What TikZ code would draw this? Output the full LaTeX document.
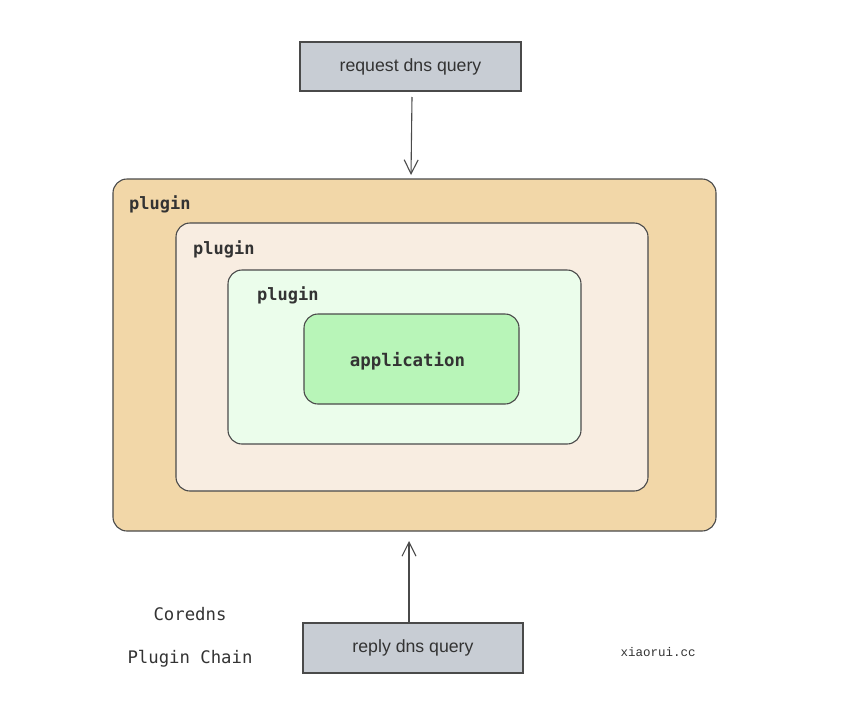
\documentclass[tikz,border=0pt]{standalone}
\usepackage{fontspec}
\setmainfont{Liberation Sans}
\newfontfamily\monofont{DejaVu Sans Mono}
\newfontfamily\xmono{Liberation Mono}
\usetikzlibrary{arrows.meta}
\definecolor{boxgray}{HTML}{C8CDD4}
\definecolor{lineclr}{HTML}{4A4A4A}
\definecolor{txtclr}{HTML}{333333}
\definecolor{pone}{HTML}{F2D7A8}
\definecolor{ptwo}{HTML}{F8EDE1}
\definecolor{pthree}{HTML}{EBFDEB}
\definecolor{papp}{HTML}{B8F5B8}
\tikzset{
  x=1pt, y=-1pt,
  qbox/.style={draw=lineclr, fill=boxgray, line width=1.1pt, inner sep=0pt,
    text=txtclr, font=\fontsize{17.7}{20}\selectfont},
  pbox/.style={draw=lineclr, line width=1.1pt, rounded corners=14pt},
  plabel/.style={anchor=base west, inner sep=0pt, text=txtclr, font=\monofont\bfseries\fontsize{17}{20}\selectfont},
  conn/.style={draw=lineclr, line width=1.1pt, -{Straight Barb[length=14pt,width=14pt,line width=1.1pt]}},
  note/.style={inner sep=0pt, text=txtclr, font=\monofont\fontsize{17.3}{20}\selectfont}
}
\begin{document}
\begin{tikzpicture}
\useasboundingbox (0,0) rectangle (851,720);
% top request box
\node[qbox, minimum width=221pt, minimum height=49pt] (req) at (410.5,66.5) {request dns query};
% nested plugin boxes
\draw[pbox, fill=pone] (113,179) rectangle (716,531);
\coordinate (outtop) at (411,175);
\coordinate (outbot) at (409,541);
\node[plabel] (l1) at (129,209) {plugin};
\draw[pbox, fill=ptwo] (176,223) rectangle (648,491);
\node[plabel] (l2) at (193,254) {plugin};
\draw[pbox, fill=pthree] (228,270) rectangle (581,444);
\node[plabel] (l3) at (257,300) {plugin};
\node[pbox, fill=papp, minimum width=215pt, minimum height=90pt, inner sep=0pt] (app) at (411.5,359) {};
\node[inner sep=0pt, text=txtclr, font=\monofont\bfseries\fontsize{17.4}{20}\selectfont] (apptext) at (407.5,361) {application};
% bottom reply box
\node[qbox, minimum width=220pt, minimum height=50pt] (rep) at (413,648) {reply dns query};
% connectors
\draw[conn] (412,97) -- (outtop);
\draw[conn] (rep.north -| outbot) -- (outbot);
% notes
\node[note] (c1) at (190,614) {\fontseries{m}\selectfont Coredns};
\node[note] (c2) at (190,659) {Plugin Chain};
\node[inner sep=0pt, text=txtclr, font=\xmono\fontsize{12.5}{15}\selectfont] (site) at (658,652) {xiaorui.cc};
\end{tikzpicture}
\end{document}
